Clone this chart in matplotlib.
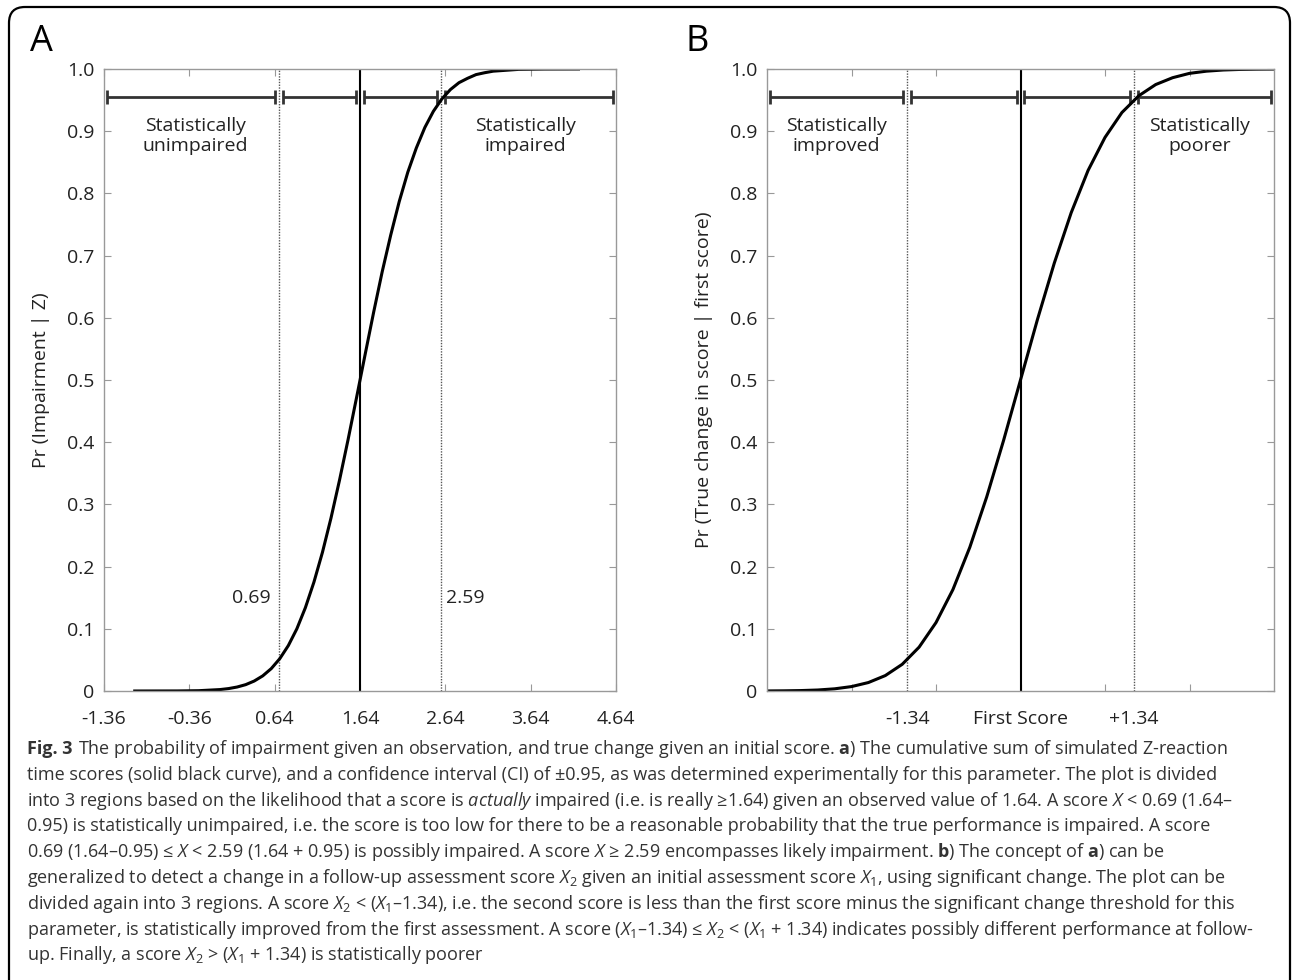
import matplotlib
matplotlib.use("Agg")
import matplotlib.pyplot as plt
from matplotlib.patches import FancyBboxPatch
from matplotlib.transforms import IdentityTransform
from matplotlib.ticker import FixedLocator

plt.rcParams['font.family'] = ['Open Sans', 'DejaVu Sans']
plt.rcParams['mathtext.fontset'] = 'custom'
plt.rcParams['mathtext.rm'] = 'Open Sans'
plt.rcParams['mathtext.it'] = 'Open Sans:italic'
plt.rcParams['mathtext.bf'] = 'Open Sans:bold'

# panel A: cumulative curve
curve_a_x = [-1.0, -0.5, -0.25, 0.0, 0.1, 0.2, 0.3, 0.4, 0.5, 0.6, 0.7, 0.8, 0.9,
             1.0, 1.1, 1.2, 1.3, 1.4, 1.5, 1.6, 1.7, 1.8, 1.9, 2.0, 2.1, 2.2,
             2.3, 2.4, 2.5, 2.6, 2.7, 2.8, 2.9, 3.0, 3.1, 3.2, 3.5, 3.8, 4.2]
curve_a_y = [0.0, 0.0001, 0.0005, 0.0023, 0.0039, 0.0064, 0.0102, 0.016, 0.0243,
             0.036, 0.052, 0.073, 0.100, 0.134, 0.175, 0.223, 0.278, 0.339, 0.404,
             0.472, 0.541, 0.609, 0.674, 0.733, 0.787, 0.834, 0.873, 0.906, 0.932,
             0.952, 0.967, 0.978, 0.985, 0.991, 0.994, 0.9965, 0.9994, 0.9999, 1.0]
center_a = 1.64
bounds_a = [0.69, 2.59]
xticks_a = [-1.36, -0.36, 0.64, 1.64, 2.64, 3.64, 4.64]
xlim_a = [-1.36, 4.64]

# panel B
curve_b_x = [-3.0, -2.8, -2.6, -2.4, -2.2, -2.0, -1.8, -1.6, -1.4, -1.2, -1.0,
             -0.8, -0.6, -0.4, -0.2, 0.0, 0.2, 0.4, 0.6, 0.8, 1.0, 1.2, 1.4,
             1.6, 1.8, 2.0, 2.2, 2.4, 2.6, 2.8, 3.0]
curve_b_y = [0.0001, 0.0003, 0.0007, 0.0016, 0.0035, 0.0071, 0.0136, 0.0248,
             0.0429, 0.0705, 0.110, 0.163, 0.231, 0.312, 0.403, 0.5, 0.597,
             0.688, 0.769, 0.837, 0.890, 0.930, 0.957, 0.975, 0.986, 0.993,
             0.9965, 0.9984, 0.9993, 0.9997, 0.9999]
center_b = 0.0
bounds_b = [-1.34, 1.34]
xticks_b = [-2, -1, 0, 1, 2]
xlabels_b = ["-1.34", "First Score", "+1.34"]
xlim_b = [-3, 3]

yticks = [0, 0.1, 0.2, 0.3, 0.4, 0.5, 0.6, 0.7, 0.8, 0.9, 1.0]
ytick_labels = ["0", "0.1", "0.2", "0.3", "0.4", "0.5", "0.6", "0.7", "0.8", "0.9", "1.0"]

caption_head = "Fig. 3"
caption = [
    r"The probability of impairment given an observation, and true change given an initial score. $\mathbf{a}$) The cumulative sum of simulated Z-reaction",
    r"time scores (solid black curve), and a confidence interval (CI) of ±0.95, as was determined experimentally for this parameter. The plot is divided",
    r"into 3 regions based on the likelihood that a score is $\mathit{actually}$ impaired (i.e. is really ≥1.64) given an observed value of 1.64. A score $X$ < 0.69 (1.64–",
    r"0.95) is statistically unimpaired, i.e. the score is too low for there to be a reasonable probability that the true performance is impaired. A score",
    r"0.69 (1.64–0.95) ≤ $X$ < 2.59 (1.64 + 0.95) is possibly impaired. A score $X$ ≥ 2.59 encompasses likely impairment. $\mathbf{b}$) The concept of $\mathbf{a}$) can be",
    r"generalized to detect a change in a follow-up assessment score $X_2$ given an initial assessment score $X_1$, using significant change. The plot can be",
    r"divided again into 3 regions. A score $X_2$ < ($X_1$–1.34), i.e. the second score is less than the first score minus the significant change threshold for this",
    r"parameter, is statistically improved from the first assessment. A score ($X_1$–1.34) ≤ $X_2$ < ($X_1$ + 1.34) indicates possibly different performance at follow-",
    r"up. Finally, a score $X_2$ > ($X_1$ + 1.34) is statistically poorer",
]

W, H = 1292, 980
fig = plt.figure(figsize=(W / 100, H / 100), dpi=100)

text_c = "#222222"
spine_c = "#999999"
fs = 14


def setup(ax, xlim):
    ax.set_xlim(xlim)
    ax.set_ylim(0, 1.0)
    for s in ax.spines.values():
        s.set_color(spine_c)
        s.set_linewidth(1.0)
    ax.tick_params(which="major", direction="in", length=5, color=spine_c,
                   top=True, right=True, labelsize=fs, labelcolor=text_c)
    ax.tick_params(axis="x", which="major", pad=14)
    ax.tick_params(axis="y", which="major", pad=7)
    ax.set_yticks(yticks)
    ax.set_yticklabels(ytick_labels)


def draw_bars(ax, xlim, bounds, center, y=0.955, gap=0.045, cap=0.011):
    edges = [xlim[0] + 0.03, bounds[0], center, bounds[1], xlim[1] - 0.04]
    for i in range(4):
        x0 = edges[i] + (gap if i > 0 else 0)
        x1 = edges[i + 1] - (gap if i < 3 else 0)
        ax.hlines(y, x0, x1, color="#333333", lw=2.0)
        ax.vlines([x0, x1], y - cap, y + cap, color="#333333", lw=2.0)


# panel A
axA = fig.add_axes([104 / W, 1 - 691 / H, 512 / W, 622 / H])
setup(axA, xlim_a)
axA.set_xticks(xticks_a)
axA.set_xticklabels([f"{t:.2f}" for t in xticks_a])
axA.axvline(center_a, color="black", lw=1.5)
for b in bounds_a:
    axA.axvline(b, color="#555555", lw=1.0, ls=(0, (1, 1)))
draw_bars(axA, xlim_a, bounds_a, center_a)
axA.plot(curve_a_x, curve_a_y, color="black", lw=2.2)
axA.text(-0.29, 0.893, "Statistically\nunimpaired", ha="center", va="center",
         fontsize=fs, color=text_c, linespacing=1.15)
axA.text(3.58, 0.893, "Statistically\nimpaired", ha="center", va="center",
         fontsize=fs, color=text_c, linespacing=1.15)
axA.text(bounds_a[0] - 0.1, 0.15, "0.69", ha="right", va="center", fontsize=fs, color=text_c)
axA.text(bounds_a[1] + 0.06, 0.15, "2.59", ha="left", va="center", fontsize=fs, color=text_c)
axA.set_ylabel("Pr (Impairment | Z)", fontsize=fs, color=text_c, labelpad=12)

# panel B
axB = fig.add_axes([767 / W, 1 - 691 / H, 507 / W, 622 / H])
setup(axB, xlim_b)
axB.set_xticks(xticks_b)
axB.set_xticklabels([])
axB.xaxis.remove_overlapping_locs = False
axB.xaxis.set_minor_locator(FixedLocator([bounds_b[0], center_b, bounds_b[1]]))
axB.set_xticklabels(xlabels_b, minor=True)
axB.tick_params(axis="x", which="minor", length=0, labelsize=fs, labelcolor=text_c, pad=14)
axB.axvline(center_b, color="black", lw=1.5)
for b in bounds_b:
    axB.axvline(b, color="#555555", lw=1.0, ls=(0, (1, 1)))
draw_bars(axB, xlim_b, bounds_b, center_b)
axB.plot(curve_b_x, curve_b_y, color="black", lw=2.2)
axB.text(-2.18, 0.893, "Statistically\nimproved", ha="center", va="center",
         fontsize=fs, color=text_c, linespacing=1.15)
axB.text(2.12, 0.893, "Statistically\npoorer", ha="center", va="center",
         fontsize=fs, color=text_c, linespacing=1.15)
axB.set_ylabel("Pr (True change in score | first score)", fontsize=fs, color=text_c, labelpad=12)

# panel letters
fig.text(41 / W, 1 - 42 / H, "A", fontsize=26, ha="center", va="center", color="black")
fig.text(697 / W, 1 - 42 / H, "B", fontsize=26, ha="center", va="center", color="black")

# caption
cap_fs = 13
head = fig.text(27 / W, 1 - 749 / H, caption_head, fontsize=cap_fs, fontweight="bold",
                ha="left", va="center", color="#333333")
for i, line in enumerate(caption):
    if i == 0:
        fig.get_figure().canvas.draw()
        plt.annotate(line, xy=(1, 0.5), xycoords=head, xytext=(4, 0),
                     textcoords="offset points", fontsize=cap_fs, ha="left",
                     va="center", color="#333333", annotation_clip=False)
    else:
        fig.text(27 / W, 1 - (749 + i * 25.8) / H, line, fontsize=cap_fs, ha="left",
                 va="center", color="#333333")

# frame round the figure
frame = FancyBboxPatch((9, -60), 1281, H - 7 + 60, boxstyle="round,pad=0,rounding_size=16",
                       transform=IdentityTransform(), fill=False, ec="black", lw=1.6)
fig.patches.append(frame)

fig.savefig("out.png", dpi=100)
plt.close(fig)
